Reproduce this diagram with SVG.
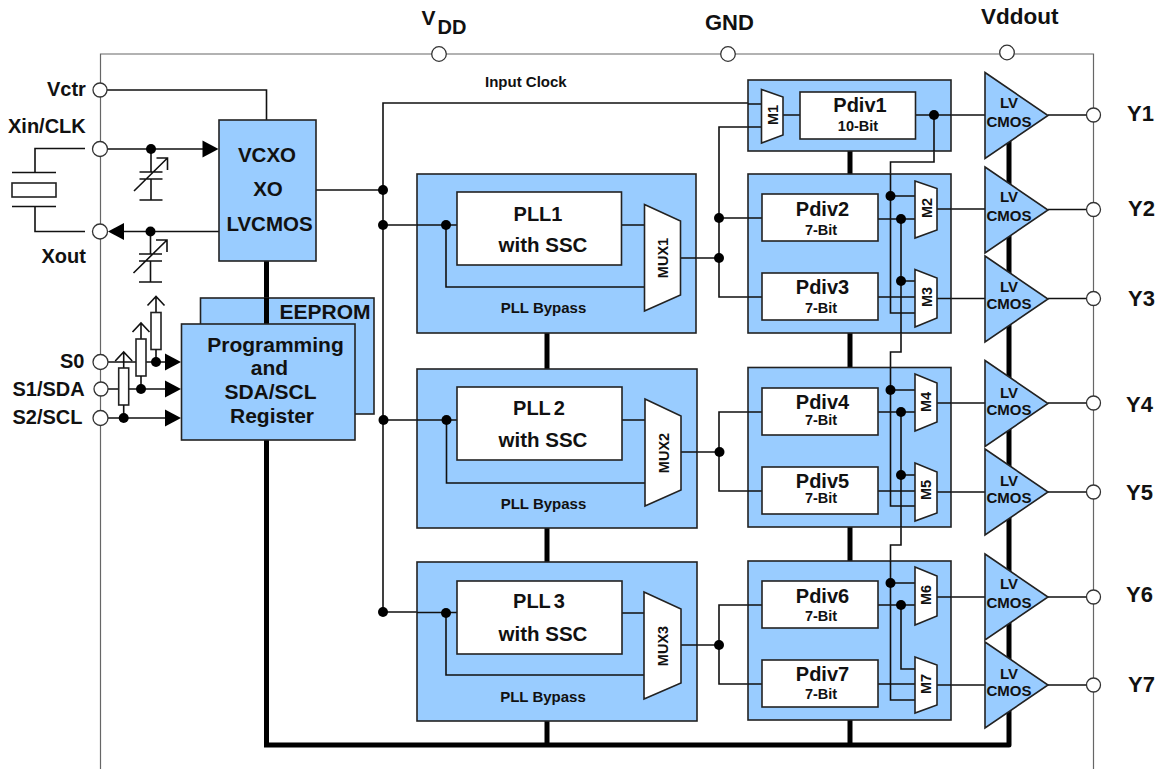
<svg xmlns="http://www.w3.org/2000/svg" width="1156" height="769" viewBox="0 0 1156 769">
<style>
text{font-family:"Liberation Sans",Arial,sans-serif;font-weight:bold;fill:#111}
.m{text-anchor:middle}
.box{fill:#99ccff;stroke:#222;stroke-width:1.6}
.wbox{fill:#fff;stroke:#222;stroke-width:1.6}
.w{fill:none;stroke:#111;stroke-width:1.6}
.bus{fill:none;stroke:#000;stroke-width:5}
.frame{fill:none;stroke:#666;stroke-width:1.2}
.pin{fill:#fff;stroke:#333;stroke-width:1.3}
.t20{font-size:20px}.t21{font-size:21px}.t15{font-size:15px}.t14{font-size:14.5px}.t22{font-size:22px}
</style>
<defs>
<circle id="dot" r="5" fill="#000"/>
<path id="arrow" d="M-16-8.500L0 0L-16 8.500Z" fill="#000"/>
<g id="cap"><path class="w" d="M0 0V23M-11.500 23H11.500M-11.500 30H11.500M0 30V51M-11.500 51H11.500M-17 42L16.500 9M5.500 9H16.500V21"/></g>
<g id="res"><path class="w" d="M-8.500 9L0 0L8.500 9M0 0V16"/><rect class="wbox" x="-5" y="16" width="10" height="37"/></g>
<polygon id="tri" class="box" points="0,-43 63,0 0,43"/>
</defs>
<path id="frame" class="frame" d="M100.500 769V54H1093.500V769"/>
<g id="connectors">
<path class="bus" stroke-linejoin="round" d="M266.500 261V745M547 333V745M850 151V745M264 745H1009V130"/>
<path class="w" d="M107 90H266.500V120M85 148.500H35V172.500M35 206.500V231.500H85M107 149H205M219 231.500H120M107 362H168M108 389H168M107 418H168"/>
<path class="w" d="M316 190H383M383 612V103H762M383 225H457M383 420H457M383 612H457"/>
<path class="w" d="M446 225V287H645M621 225H645M681 258H719M446.500 420V483H645M622 420H645M681 452H719M446 613V675H645M622 613H645M681 645H719"/>
<path class="w" d="M762 127H719V297H762M719 218H762M762 412H719V491H762M762 605H719V684H762"/>
<path class="w" d="M783 115H800M915 115H985M934 115V162H890.500V313H915M890.500 196H915M878 219H915M901 219V352H890.500V506H915M901 281H915M878 297H915M890.500 390H915M878 412H915M901 412V545H890.500V700H915M901 475H915M878 491H915M890.500 583H915M878 605H915M901 605V669H915M878 684H915"/>
<path class="w" d="M937 209H985M937 298.500H985M937 403H985M937 492H985M937 597H985M937 685H985M1048 115H1086M1048 209.500H1086M1048 298.500H1086M1048 403H1086M1048 492H1086M1048 597H1086M1048 685H1086"/>
</g>
<g id="crystal">
<path class="w" d="M12 172.500H56M12 206.500H56"/><rect class="wbox" x="12" y="183" width="44" height="14"/>
</g>
<g id="caps"><use href="#cap" x="151" y="149"/><use href="#cap" x="150.500" y="231"/></g>
<g id="pull-ups"><use href="#res" x="156" y="296.500"/><use href="#res" x="141" y="323"/><use href="#res" x="123.700" y="352"/>
<path class="w" d="M156 349.500V362M141 376V389M123.700 405V418"/></g>
<g id="dots">
<use href="#dot" x="151" y="149"/><use href="#dot" x="150.500" y="231.500"/><use href="#dot" x="156" y="362"/><use href="#dot" x="141" y="389"/><use href="#dot" x="123.700" y="418"/>
<use href="#dot" x="383" y="190"/><use href="#dot" x="383" y="225"/><use href="#dot" x="383.500" y="420"/><use href="#dot" x="383" y="612"/>
</g>
<g id="arrows"><use href="#arrow" x="218.500" y="149"/><use href="#arrow" transform="translate(108 231.500) rotate(180)"/><use href="#arrow" x="181" y="362"/><use href="#arrow" x="181" y="389"/><use href="#arrow" x="181" y="418"/></g>
<g id="vcxo"><rect class="box" x="219" y="120" width="97" height="141"/>
<text class="m" x="267" y="162" style="font-size:20.500px">VCXO</text><text class="m" x="268" y="196" style="font-size:20.500px">XO</text><text class="m" x="269.500" y="231" style="font-size:20.500px">LVCMOS</text></g>
<g id="eeprom"><rect class="box" x="200.500" y="298" width="173.500" height="116"/><path class="bus" d="M266.500 298V324"/><text class="m t21" x="325" y="319">EEPROM</text></g>
<g id="programming"><rect class="box" x="181.500" y="324" width="173.500" height="116"/>
<text class="m t21" x="275.500" y="352">Programming</text><text class="m t21" x="269.500" y="375">and</text><text class="m t21" x="270.500" y="399">SDA/SCL</text><text class="m t21" x="272" y="423">Register</text></g>
<g id="pll1"><rect class="box" x="417" y="174" width="279" height="159"/><path class="w" d="M417 225H457M446 225V287H645M621 225H645M681 258H696"/><rect class="wbox" x="457" y="192" width="164.500" height="73"/>
<polygon class="wbox" points="644.500,204.500 680.500,221 680.500,295 644.500,311"/><use href="#dot" x="446" y="225"/>
<text class="m t20" x="538" y="221">PLL1</text><text class="m" x="543" y="252" style="font-size:20.500px">with SSC</text><text class="m t15" x="543.500" y="313">PLL Bypass</text><text class="m t14" transform="translate(668 258) rotate(-90)">MUX1</text></g>
<g id="pll2"><rect class="box" x="417" y="369" width="280" height="159"/><path class="w" d="M417 420H457M446.500 420V483H645M622 420H645M681 452H697"/><rect class="wbox" x="457" y="387" width="165" height="73"/>
<polygon class="wbox" points="645,399 681,416 681,490 645,506"/><use href="#dot" x="446.500" y="420"/>
<text class="m t20" x="539" y="415">PLL<tspan dx="3">2</tspan></text><text class="m" x="543" y="447" style="font-size:20.500px">with SSC</text><text class="m t15" x="543.500" y="509">PLL Bypass</text><text class="m t14" transform="translate(669 453) rotate(-90)">MUX2</text></g>
<g id="pll3"><rect class="box" x="417" y="562" width="280" height="159"/><path class="w" d="M417 612.500H457M446 613V675H644M622 613H644M681 645H697"/><rect class="wbox" x="457" y="581" width="165" height="73"/>
<polygon class="wbox" points="644,592 681,609 681,683 644,699"/><use href="#dot" x="446" y="613"/>
<text class="m t20" x="539" y="608">PLL<tspan dx="3">3</tspan></text><text class="m" x="543" y="641" style="font-size:20.500px">with SSC</text><text class="m t15" x="543" y="702">PLL Bypass</text><text class="m t14" transform="translate(668 646) rotate(-90)">MUX3</text></g>
<g id="div1"><rect class="box" x="748" y="80" width="203" height="71"/>
<path class="w" d="M748 104H762M748 127H762M783 115H800M915 115H951M934 115V151"/>
<polygon class="wbox" points="761.500,89.500 783,97 783,135 761.500,143"/><rect class="wbox" x="800" y="92" width="115.500" height="47"/><use href="#dot" x="934" y="115"/>
<text class="m t14" transform="translate(777.500 115) rotate(-90)">M1</text><text class="m t20" x="860" y="112">Pdiv1</text><text class="m t14" x="858" y="131">10-Bit</text></g>
<g id="div23"><rect class="box" x="748" y="174" width="203" height="159"/>
<path class="w" d="M748 218H762M748 297H762M878 219H915M878 297H915M890.500 174V313H915M890.500 196H915M901 219V333M901 281H915M937 209H951M937 298.500H951"/>
<rect class="wbox" x="762" y="194" width="116" height="47"/><rect class="wbox" x="762" y="273" width="116" height="47"/>
<polygon class="wbox" points="915,181 937,188.500 937,230 915,238"/><polygon class="wbox" points="915,269.500 937,278 937,318 915,327"/>
<use href="#dot" x="890.500" y="196"/><use href="#dot" x="901" y="219"/><use href="#dot" x="901" y="281"/>
<text class="m t20" x="822.500" y="216">Pdiv2</text><text class="m t14" x="821" y="235">7-Bit</text><text class="m t20" x="822.500" y="294">Pdiv3</text><text class="m t14" x="821" y="313">7-Bit</text>
<text class="m t14" transform="translate(931.500 208) rotate(-90)">M2</text><text class="m t14" transform="translate(931.500 297) rotate(-90)">M3</text></g>
<g id="div45"><rect class="box" x="748" y="367.500" width="203" height="159.500"/>
<path class="w" d="M748 412H762M748 491H762M878 412H915M878 491H915M890.500 367.500V506H915M890.500 390H915M901 412V527M901 475H915M937 403H951M937 492H951"/>
<rect class="wbox" x="762" y="388" width="116" height="47"/><rect class="wbox" x="762" y="467" width="116" height="47"/>
<polygon class="wbox" points="915,374 937,383 937,422 915,431"/><polygon class="wbox" points="915,463 937,472 937,513 915,521"/>
<use href="#dot" x="890.500" y="390"/><use href="#dot" x="901" y="412"/><use href="#dot" x="901" y="475"/>
<text class="m t20" x="822.500" y="409">Pdiv4</text><text class="m t14" x="821" y="425">7-Bit</text><text class="m t20" x="822.500" y="488">Pdiv5</text><text class="m t14" x="821" y="503">7-Bit</text>
<text class="m t14" transform="translate(931 402) rotate(-90)">M4</text><text class="m t14" transform="translate(931 490) rotate(-90)">M5</text></g>
<g id="div67"><rect class="box" x="748" y="561" width="203" height="159"/>
<path class="w" d="M748 605H762M748 684H762M878 605H915M878 684H915M890.500 561V700H915M890.500 583H915M901 605V669H915M937 597H951M937 685H951"/>
<rect class="wbox" x="762" y="581" width="116" height="47"/><rect class="wbox" x="762" y="660" width="116" height="47"/>
<polygon class="wbox" points="915,567 937,576 937,616 915,625"/><polygon class="wbox" points="915,657 937,665 937,705 915,713"/>
<use href="#dot" x="890.500" y="583"/><use href="#dot" x="901" y="605"/>
<text class="m t20" x="822.500" y="603">Pdiv6</text><text class="m t14" x="821" y="621">7-Bit</text><text class="m t20" x="822.500" y="681">Pdiv7</text><text class="m t14" x="821" y="699">7-Bit</text>
<text class="m t14" transform="translate(931 595) rotate(-90)">M6</text><text class="m t14" transform="translate(931 684) rotate(-90)">M7</text></g>
<g id="junctions"><use href="#dot" x="719" y="218"/><use href="#dot" x="719" y="258"/><use href="#dot" x="719.500" y="452"/><use href="#dot" x="719" y="645"/></g>
<g id="buf1"><use href="#tri" x="985" y="115.500"/><text class="m t15" x="1009" y="108">LV</text><text class="m t15" x="1009" y="127">CMOS</text></g>
<g id="buf2"><use href="#tri" x="985" y="210"/><text class="m t15" x="1009" y="202">LV</text><text class="m t15" x="1009" y="221">CMOS</text></g>
<g id="buf3"><use href="#tri" x="985" y="299"/><text class="m t15" x="1009" y="292">LV</text><text class="m t15" x="1009" y="309">CMOS</text></g>
<g id="buf4"><use href="#tri" x="985" y="403.500"/><text class="m t15" x="1009" y="398">LV</text><text class="m t15" x="1009" y="415">CMOS</text></g>
<g id="buf5"><use href="#tri" x="985" y="492"/><text class="m t15" x="1009" y="486">LV</text><text class="m t15" x="1009" y="503">CMOS</text></g>
<g id="buf6"><use href="#tri" x="985" y="597"/><text class="m t15" x="1009" y="589">LV</text><text class="m t15" x="1009" y="608">CMOS</text></g>
<g id="buf7"><use href="#tri" x="985" y="685"/><text class="m t15" x="1009" y="679">LV</text><text class="m t15" x="1009" y="696">CMOS</text></g>
<g id="pins">
<circle class="pin" cx="100" cy="90" r="7"/><circle class="pin" cx="100" cy="149" r="7.500"/><circle class="pin" cx="100" cy="231.500" r="7.500"/><circle class="pin" cx="100.500" cy="362" r="7.500"/><circle class="pin" cx="101" cy="389" r="7"/><circle class="pin" cx="100.500" cy="418" r="7.500"/>
<circle class="pin" cx="439" cy="54" r="7.300"/><circle class="pin" cx="728" cy="54" r="7.300"/><circle class="pin" cx="1007" cy="52.500" r="7.300"/>
<circle class="pin" cx="1093.500" cy="115" r="7"/><circle class="pin" cx="1093.500" cy="209.500" r="7"/><circle class="pin" cx="1093.500" cy="298.500" r="7"/><circle class="pin" cx="1093.500" cy="403" r="7"/><circle class="pin" cx="1093.500" cy="492" r="7"/><circle class="pin" cx="1093.500" cy="597" r="7"/><circle class="pin" cx="1093.500" cy="685" r="7"/>
</g>
<g id="labels">
<text class="t20" x="47" y="96">Vctr</text><text class="t20" x="8" y="133">Xin/CLK</text><text class="t20" x="41.500" y="263">Xout</text><text class="t20" x="60" y="368">S0</text><text class="t20" x="12.500" y="396">S1/SDA</text><text class="t20" x="12.500" y="423.500">S2/SCL</text>
<text x="485" y="87" style="font-size:15px">Input Clock</text>
<text x="421.500" y="25" style="font-size:21px">V</text><text x="437.500" y="34" style="font-size:20px">DD</text>
<text class="t22" x="705" y="29.500">GND</text><text x="981" y="23.500" style="font-size:22.500px">Vddout</text>
<text class="t22" x="1127" y="121">Y1</text><text class="t22" x="1128" y="216">Y2</text><text class="t22" x="1128" y="306">Y3</text><text class="t22" x="1126" y="412">Y4</text><text class="t22" x="1126" y="500">Y5</text><text class="t22" x="1126" y="602">Y6</text><text class="t22" x="1128" y="692">Y7</text>
</g>
</svg>
